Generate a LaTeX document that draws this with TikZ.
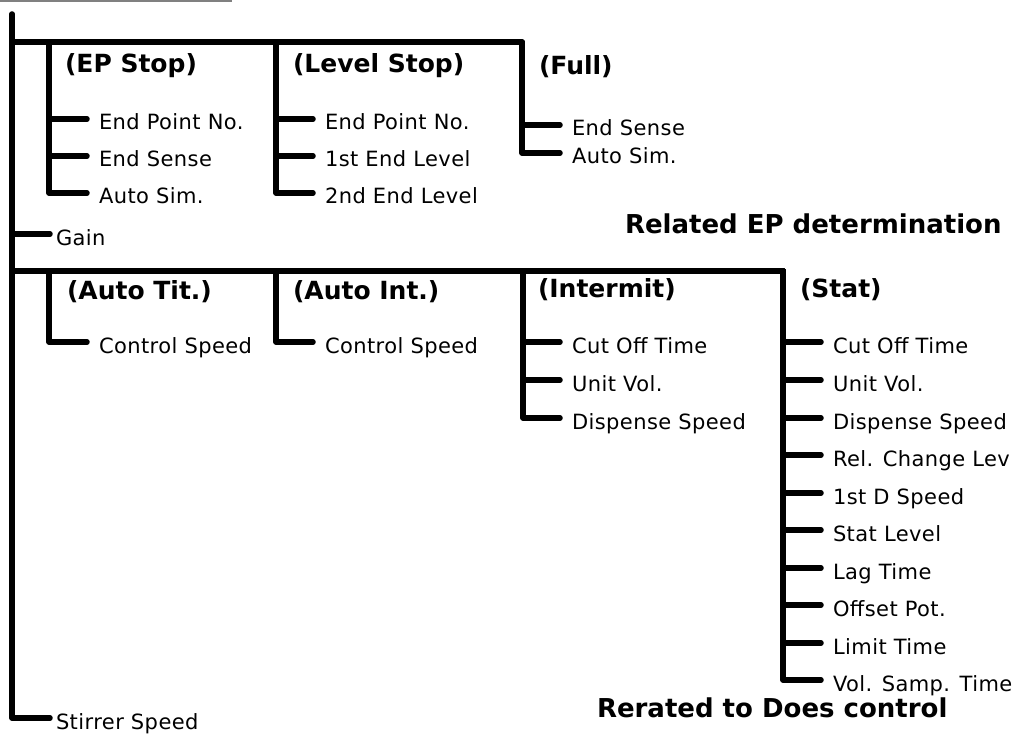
\documentclass[tikz,border=0pt]{standalone}
\usepackage{fontspec}
\setmainfont{DejaVu Sans}
\newfontfamily\itemfont[LetterSpace=2]{DejaVu Sans}
\newfontfamily\headfont{DejaVu Sans}
\begin{document}
\begin{tikzpicture}[x=1pt,y=-1pt,
  tree/.style={line width=5.5pt,line cap=round,line join=round},
  item/.style={anchor=west,inner sep=0pt,outer xsep=12pt,outer ysep=0pt,
    font=\itemfont\fontsize{21}{21}\selectfont,text height=22pt,text depth=0pt},
  near/.style={item,outer xsep=6pt},
  head/.style={anchor=west,inner sep=0pt,outer sep=0pt,
    font=\headfont\bfseries\fontsize{25}{25}\selectfont,text height=18.2pt,text depth=0pt},
  title/.style={anchor=west,inner sep=0pt,outer sep=0pt,
    font=\bfseries\fontsize{26}{26}\selectfont,text height=19pt,text depth=0pt}]
\useasboundingbox (0,0) rectangle (1016,738);
\draw[gray,line width=1.5pt] (0,1) -- (232,1);

% junction coordinates
\coordinate (top) at (12,14);
\coordinate (b1) at (12,42);
\coordinate (b2) at (12,271);
\coordinate (gj) at (12,234);
\coordinate (epv) at (49,42);
\coordinate (lsv) at (276,42);
\coordinate (fuv) at (522,42);
\coordinate (atv) at (49,271);
\coordinate (aiv) at (276,271);
\coordinate (imv) at (523,271);
\coordinate (stv) at (783,271);

% headers
\node[head] (hep) at (65,63) {(EP Stop)};
\node[head] (hls) at (293,63) {(Level Stop)};
\node[head] (hfu) at (539,65) {(Full)};
\node[head] (hat) at (67,290) {(Auto Tit.)};
\node[head] (hai) at (293,290) {(Auto Int.)};
\node[head] (him) at (538,288) {(Intermit)};
\node[head] (hst) at (800,288) {(Stat)};

% items
\node[item] (ep1) at (87,119) {End Point No.};
\node[item] (ep2) at (87,156) {End Sense};
\node[item] (ep3) at (87,193) {Auto Sim.};
\node[item] (ls1) at (313,119) {End Point No.};
\node[item] (ls2) at (313,156) {1st End Level};
\node[item] (ls3) at (313,193) {2nd End Level};
\node[item] (fu1) at (560,125) {End Sense};
\node[item] (fu2) at (560,153) {Auto Sim.};
\node[near] (gain) at (50,234) {Gain};
\node[item] (at1) at (87,342) {Control Speed};
\node[item] (ai1) at (313,342) {Control Speed};
\node[item] (im1) at (560,342) {Cut Off Time};
\node[item] (im2) at (560,380) {Unit Vol.};
\node[item] (im3) at (560,418) {Dispense Speed};
\node[item] (st1) at (821,342) {Cut Off Time};
\node[item] (st2) at (821,380) {Unit Vol.};
\node[item] (st3) at (821,418) {Dispense Speed};
\node[item] (st4) at (821,455) {Rel. Change Lev};
\node[item] (st5) at (821,493) {1st D Speed};
\node[item] (st6) at (821,530) {Stat Level};
\node[item] (st7) at (821,568) {Lag Time};
\node[item] (st8) at (821,605) {Offset Pot.};
\node[item] (st9) at (821,643) {Limit Time};
\node[item] (st10) at (821,680) {Vol. Samp. Time};
\node[near] (stir) at (50,718) {Stirrer Speed};

% titles
\node[title] (t1) at (625,224) {Related EP determination};
\node[title] (t2) at (597,708) {Rerated to Does control};

% connectors
\draw[tree] (top) |- (stir.west);
\draw[tree] (gj) -- (gain.west);
\draw[tree] (b1) -- (fuv) |- (fu2.west);
\draw[tree] (fuv) |- (fu1.west);
\draw[tree] (epv) |- (ep1.west);
\draw[tree] (epv) |- (ep2.west);
\draw[tree] (epv) |- (ep3.west);
\draw[tree] (lsv) |- (ls1.west);
\draw[tree] (lsv) |- (ls2.west);
\draw[tree] (lsv) |- (ls3.west);
\draw[tree] (b2) -- (stv) |- (st10.west);
\foreach \i in {1,...,9} \draw[tree] (stv) |- (st\i.west);
\draw[tree] (atv) |- (at1.west);
\draw[tree] (aiv) |- (ai1.west);
\draw[tree] (imv) |- (im1.west);
\draw[tree] (imv) |- (im2.west);
\draw[tree] (imv) |- (im3.west);
\end{tikzpicture}
\end{document}
